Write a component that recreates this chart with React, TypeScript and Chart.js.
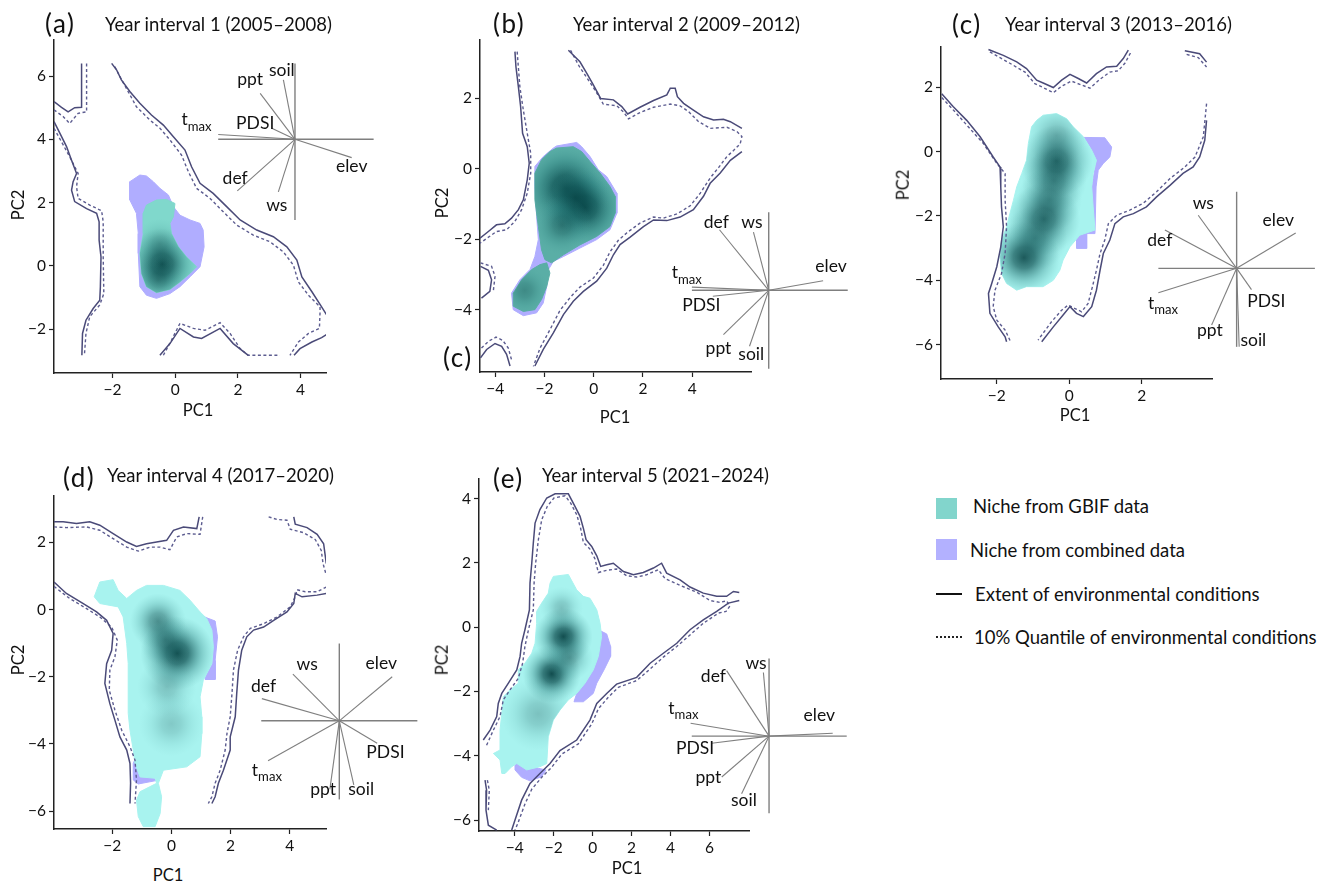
import React, { useEffect, useRef } from "react";
import { Chart, registerables } from "chart.js";
Chart.register(...registerables);

type P = [number, number];
type Spot = { x: number; y: number; s: number; w: number };

// ---------- shared ----------
const VARS = ["tmax", "PDSI", "ppt", "soil", "elev", "def", "ws"];

// ---------- panel (a) ----------
const A_XLIM = [-3.87, 4.81];
const A_YLIM = [-3.39, 7.14];
const A_XTICKS = [-2, 0, 2, 4];
const A_YTICKS = [-2, 0, 2, 4, 6];
const A_EXT_1: P[] = [[-3.87,5.19],[-3.63,5.01],[-3.42,4.87],[-3.21,5.0],[-2.99,5.01],[-2.99,6.4]];
const A_Q10_1: P[] = [[-3.87,4.93],[-3.58,4.72],[-3.37,4.5],[-3.1,4.82],[-2.83,4.87],[-2.83,6.4]];
const A_EXT_2: P[] = [[-3.87,4.56],[-3.68,4.19],[-3.47,3.77],[-3.31,3.34],[-3.15,2.92],[-3.26,2.66],[-3.31,2.39],[-3.21,2.03],[-2.83,1.81],[-2.51,1.66],[-2.43,1.39],[-2.43,0.81],[-2.37,0.28],[-2.39,-0.66],[-2.41,-1.09],[-2.62,-1.35],[-2.85,-1.72],[-2.96,-2.14],[-2.98,-2.83]];
const A_Q10_2: P[] = [[-3.87,4.35],[-3.63,3.92],[-3.37,3.45],[-3.1,2.92],[-3.15,2.5],[-3.1,2.13],[-2.73,1.92],[-2.35,1.74],[-2.3,1.39],[-2.3,0.28],[-2.28,-0.88],[-2.41,-1.24],[-2.73,-1.61],[-2.85,-2.14],[-2.9,-2.83]];
const A_EXT_3: P[] = [[-2.03,6.4],[-1.87,6.19],[-1.72,5.88],[-1.45,5.51],[-1.13,5.14],[-0.76,4.77],[-0.38,4.45],[-0.06,4.08],[0.31,3.66],[0.52,3.13],[0.79,2.61],[1.21,2.29],[1.64,1.87],[2.07,1.45],[2.6,1.13],[3.13,0.92],[3.56,0.6],[3.88,0.18],[4.04,-0.35],[4.36,-0.82],[4.67,-1.3],[4.94,-1.72],[4.89,-2.14],[4.67,-2.27],[4.36,-2.41],[3.98,-2.62],[3.79,-2.83]];
const A_Q10_3: P[] = [[-1.93,6.3],[-1.77,5.99],[-1.56,5.61],[-1.24,5.03],[-0.81,4.61],[-0.49,4.35],[-0.17,3.98],[0.2,3.5],[0.42,2.97],[0.68,2.45],[1.11,2.13],[1.53,1.71],[1.96,1.29],[2.49,0.97],[3.02,0.76],[3.45,0.44],[3.77,0.02],[3.93,-0.51],[4.25,-0.93],[4.62,-1.3],[4.62,-1.46],[4.6,-1.98],[4.25,-2.14],[3.93,-2.41],[3.66,-2.83]];
const A_EXT_4: P[] = [[-0.49,-2.83],[-0.17,-2.46],[0.15,-1.98],[0.58,-2.25],[0.84,-2.3],[1.43,-1.98],[1.85,-2.46],[2.33,-2.83]];
const A_Q10_4: P[] = [[-0.38,-2.83],[-0.12,-2.35],[0.15,-1.82],[0.58,-1.98],[0.95,-2.04],[1.43,-1.8],[1.75,-2.14],[2.07,-2.62],[2.33,-2.83],[3.34,-2.83]];
const A_COMB: P[] = [[-1.13,2.87],[-1.45,2.66],[-1.45,2.08],[-1.24,1.66],[-1.18,1.02],[-1.18,0.39],[-1.13,-0.66],[-0.92,-0.93],[-0.6,-1.03],[-0.17,-0.88],[0.15,-0.66],[0.47,-0.35],[0.79,-0.03],[0.92,0.6],[0.89,1.13],[0.79,1.34],[0.47,1.45],[0.15,1.6],[-0.06,1.87],[-0.22,2.24],[-0.49,2.45],[-0.7,2.66],[-0.92,2.84]];
const A_GBIF: P[] = [[-0.6,2.08],[-0.92,1.92],[-1.02,1.66],[-1.02,1.02],[-1.13,0.39],[-1.08,-0.24],[-0.92,-0.66],[-0.6,-0.85],[-0.17,-0.75],[0.15,-0.51],[0.47,-0.24],[0.68,-0.03],[0.36,0.28],[0.1,0.6],[-0.12,1.02],[-0.17,1.34],[-0.06,1.55],[-0.01,1.97],[-0.28,2.1]];
const A_SPOTS: Spot[] = [{x:-0.42,y:0.05,s:1.15,w:1},{x:-0.55,y:-0.45,s:0.8,w:0.4},{x:-0.5,y:0.7,s:0.8,w:0.3}];
const A_CENTER: P = [3.82, 4.0];
const A_BI_H = [1.37, 6.33];
const A_BI_V = [1.45, 6.4];
const A_ENDS: P[] = [[1.37,4.15],[3.08,4.35],[2.71,5.45],[3.45,5.88],[5.63,3.42],[1.98,2.37],[3.29,2.34]];
const A_LABELS: P[] = [[0.68,4.56],[2.55,4.5],[2.39,5.88],[3.4,6.19],[5.63,3.13],[1.91,2.76],[3.24,1.92]];

// ---------- panel (b) ----------
const B_XLIM = [-4.62, 6.39];
const B_YLIM = [-5.77, 3.66];
const B_XTICKS = [-4, -2, 0, 2, 4];
const B_YTICKS = [-4, -2, 0, 2];
const B_EXT_1: P[] = [[-3.2,3.33],[-3.16,2.9],[-3.06,2.33],[-2.97,1.77],[-2.89,1.01],[-2.7,0.63],[-2.62,0.16],[-2.7,-0.31],[-2.86,-0.88],[-3.06,-1.16],[-3.34,-1.4],[-3.61,-1.56],[-3.95,-1.59],[-4.28,-1.78],[-4.62,-1.97]];
const B_Q10_1: P[] = [[-3.11,3.33],[-3.0,2.33],[-2.86,1.67],[-2.7,1.01],[-2.56,0.44],[-2.56,-0.12],[-2.7,-0.69],[-2.93,-1.16],[-3.2,-1.49],[-3.54,-1.73],[-3.95,-1.78],[-4.62,-2.11]];
const B_EXT_2: P[] = [[-1.03,3.37],[-0.56,3.04],[-0.28,2.71],[-0.01,2.38],[0.28,2.0],[0.8,1.96],[1.14,1.77],[1.38,1.56],[1.88,1.75],[2.43,1.94],[2.97,2.1],[3.11,2.29],[3.31,2.29],[3.4,2.05],[3.65,1.86],[4.05,1.67],[4.46,1.48],[4.87,1.39],[5.27,1.41],[5.55,1.34],[6.02,1.15]];
const B_EXT_3: P[] = [[6.02,0.49],[5.55,0.24],[5.14,-0.12],[4.73,-0.41],[4.46,-0.78],[4.05,-1.16],[3.51,-1.37],[2.97,-1.47],[2.43,-1.45],[2.02,-1.64],[1.48,-1.94],[1.07,-2.15],[0.8,-2.44],[0.53,-2.82],[0.12,-3.19],[-0.42,-3.48],[-0.83,-3.76],[-1.23,-4.14],[-1.64,-4.66],[-2.05,-5.13],[-2.39,-5.6]];
const B_Q10_2: P[] = [[-0.94,3.37],[-0.58,2.9],[-0.26,2.57],[0.05,2.24],[0.39,1.84],[0.94,1.79],[1.23,1.6],[1.41,1.42],[1.88,1.6],[2.43,1.75],[3.11,1.84],[3.51,1.79],[3.85,1.63],[4.26,1.34],[4.73,1.15],[5.41,1.18],[5.82,1.06],[6.02,0.92],[5.95,0.71],[5.68,0.52],[5.41,0.35],[5.11,0.07],[4.73,-0.26],[4.33,-0.69],[3.92,-1.05],[3.38,-1.28],[2.83,-1.4],[2.43,-1.37],[1.88,-1.54],[1.34,-1.82],[1.0,-2.03],[0.66,-2.36],[0.39,-2.74],[-0.01,-3.1],[-0.56,-3.36],[-0.94,-3.64],[-1.37,-4.02],[-1.78,-4.57],[-2.18,-5.09],[-2.45,-5.61]];
const B_EXT_4: P[] = [[-4.6,-5.37],[-4.35,-5.13],[-4.01,-4.96],[-3.74,-5.04],[-3.54,-5.27],[-3.4,-5.6]];
const B_Q10_4: P[] = [[-4.56,-5.09],[-4.28,-4.9],[-3.97,-4.78],[-3.7,-4.87],[-3.47,-5.09],[-3.34,-5.42]];
const B_EXT_5: P[] = [[-4.6,-2.77],[-4.28,-2.88],[-4.15,-3.15],[-4.22,-3.48],[-4.56,-3.67]];
const B_Q10_5: P[] = [[-4.6,-2.67],[-4.15,-2.77],[-4.01,-3.05],[-4.08,-3.48]];
const B_COMB: P[] = [[-1.51,0.65],[-0.69,0.75],[-0.49,0.63],[-0.15,0.35],[0.19,-0.03],[0.53,-0.22],[0.94,-0.69],[0.94,-1.26],[0.66,-1.73],[0.12,-2.01],[-0.56,-2.25],[-1.23,-2.49],[-1.64,-2.63],[-1.84,-2.86],[-1.91,-3.34],[-2.05,-3.81],[-2.32,-4.09],[-2.86,-4.17],[-3.27,-4.0],[-3.34,-3.53],[-3.0,-3.15],[-2.59,-2.86],[-2.39,-2.49],[-2.25,-2.01],[-2.32,-1.35],[-2.39,-0.5],[-2.39,0.07],[-2.05,0.35],[-1.64,0.59]];
const B_GBIF_1: P[] = [[-1.51,0.59],[-0.83,0.63],[-0.49,0.49],[-0.15,0.21],[0.26,-0.12],[0.66,-0.5],[0.87,-0.78],[0.87,-1.26],[0.66,-1.64],[0.12,-1.92],[-0.56,-2.16],[-1.23,-2.44],[-1.71,-2.67],[-1.98,-2.58],[-2.12,-2.3],[-2.25,-1.64],[-2.39,-0.88],[-2.39,-0.12],[-2.12,0.26],[-1.78,0.49]];
const B_GBIF_2: P[] = [[-1.91,-2.67],[-1.78,-2.96],[-1.91,-3.34],[-2.12,-3.71],[-2.39,-4.0],[-2.86,-4.05],[-3.27,-3.9],[-3.27,-3.53],[-2.93,-3.15],[-2.52,-2.86],[-2.18,-2.72]];
const B_SPOTS: Spot[] = [{x:-1.15,y:-0.55,s:1.8,w:1},{x:-0.35,y:-1.1,s:1.6,w:1},{x:-0.75,y:-0.8,s:1.4,w:0.6},{x:-1.3,y:-1.6,s:1.2,w:0.5},{x:-2.8,y:-3.45,s:1.0,w:0.35}];
const B_CENTER: P = [7.11, -3.45];
const B_BI_H = [3.99, 10.32];
const B_BI_V = [-5.68, -1.23];
const B_ENDS: P[] = [[3.99,-3.36],[4.84,-3.62],[5.27,-4.71],[6.33,-5.04],[9.32,-3.18],[5.11,-1.73],[6.49,-1.8]];
const B_LABELS: P[] = [[3.78,-3.01],[4.37,-3.88],[5.07,-5.09],[6.4,-5.27],[9.64,-2.77],[4.98,-1.52],[6.43,-1.52]];

// ---------- panel (c) ----------
const C_XLIM = [-3.54, 3.94];
const C_YLIM = [-7.07, 3.25];
const C_XTICKS = [-2, 0, 2];
const C_YTICKS = [-6, -4, -2, 0, 2];
const C_EXT_1: P[] = [[-2.23,3.17],[-1.82,2.99],[-1.45,2.79],[-1.18,2.58],[-0.9,2.22],[-0.72,2.13],[-0.44,1.99],[-0.21,2.22],[0.02,2.4],[0.25,2.27],[0.48,2.13],[0.75,2.42],[1.03,2.63],[1.31,2.65],[1.49,2.89],[1.63,3.15]];
const C_Q10_1: P[] = [[-2.19,3.1],[-1.91,2.92],[-1.54,2.68],[-1.22,2.47],[-0.95,2.11],[-0.72,1.99],[-0.44,1.83],[-0.21,2.03],[0.06,2.19],[0.29,2.09],[0.57,1.97],[0.85,2.25],[1.12,2.47],[1.35,2.51],[1.54,2.75],[1.72,3.13]];
const C_EXT_2: P[] = [[3.19,3.13],[3.6,3.04],[3.79,2.78]];
const C_Q10_2: P[] = [[3.24,3.02],[3.56,2.92],[3.79,2.63]];
const C_EXT_3: P[] = [[-3.52,1.8],[-3.2,1.39],[-2.83,0.97],[-2.46,0.46],[-2.1,-0.17],[-1.91,-0.48],[-1.89,-1.1],[-1.87,-1.72],[-1.82,-2.34],[-1.89,-2.96],[-2.0,-3.58],[-2.14,-4.1],[-2.23,-4.41],[-2.19,-5.03],[-1.96,-5.45],[-1.77,-5.76],[-1.73,-5.91]];
const C_Q10_3: P[] = [[-3.52,1.68],[-3.15,1.23],[-2.74,0.71],[-2.37,0.25],[-2.0,-0.37],[-1.77,-0.68],[-1.77,-1.51],[-1.73,-2.34],[-1.77,-3.17],[-1.87,-3.79],[-2.05,-4.31],[-2.1,-4.82],[-2.0,-5.24],[-1.77,-5.55],[-1.62,-5.91]];
const C_EXT_4: P[] = [[3.79,0.97],[3.74,0.35],[3.6,-0.17],[3.42,-0.48],[3.14,-0.68],[2.78,-1.05],[2.41,-1.41],[2.13,-1.72],[1.77,-1.93],[1.49,-2.03],[1.26,-2.24],[1.12,-2.75],[0.94,-3.17],[0.85,-3.69],[0.75,-4.31],[0.62,-4.82],[0.39,-5.13],[0.2,-5.03],[0.02,-4.82],[-0.17,-5.08],[-0.44,-5.45],[-0.76,-5.91]];
const C_Q10_4: P[] = [[3.79,1.49],[3.7,0.46],[3.47,-0.17],[3.19,-0.48],[2.78,-0.84],[2.41,-1.25],[2.04,-1.61],[1.67,-1.82],[1.31,-1.98],[1.08,-2.24],[0.98,-2.75],[0.85,-3.17],[0.75,-3.69],[0.64,-4.2],[0.52,-4.72],[0.34,-4.98],[0.16,-4.88],[-0.03,-4.77],[-0.21,-4.93],[-0.49,-5.29],[-0.86,-5.86]];
const C_COMB: P[] = [[0.39,0.44],[0.98,0.43],[1.17,0.14],[1.12,-0.17],[0.94,-0.37],[0.8,-0.58],[0.74,-1.1],[0.71,-2.55],[0.48,-2.55],[0.48,-3.01],[0.2,-3.01],[0.2,-2.55],[0.62,-1.1],[0.75,-0.27],[0.62,0.04]];
const C_GBIF: P[] = [[-0.9,0.97],[-0.72,1.13],[-0.35,1.18],[-0.07,1.02],[0.11,0.77],[0.39,0.46],[0.62,0.04],[0.75,-0.27],[0.66,-0.68],[0.62,-1.1],[0.66,-1.72],[0.71,-2.44],[0.29,-2.6],[0.02,-2.96],[-0.17,-3.37],[-0.26,-3.69],[-0.44,-4.0],[-0.72,-4.2],[-1.18,-4.2],[-1.45,-4.31],[-1.73,-4.1],[-1.87,-3.79],[-1.91,-3.27],[-1.87,-2.75],[-1.73,-2.34],[-1.64,-1.93],[-1.54,-1.51],[-1.45,-1.1],[-1.31,-0.68],[-1.18,-0.27],[-1.13,0.25],[-1.04,0.77]];
const C_SPOTS: Spot[] = [{x:-0.35,y:-0.3,s:1.0,w:0.9},{x:-0.42,y:-0.9,s:0.9,w:0.55},{x:-0.55,y:-1.5,s:0.9,w:0.55},{x:-0.7,y:-2.1,s:1.0,w:0.8},{x:-0.95,y:-2.7,s:0.9,w:0.55},{x:-1.25,y:-3.3,s:1.0,w:0.9},{x:-0.35,y:0.5,s:0.85,w:0.35}];
const C_CENTER: P = [4.62, -3.63];
const C_BI_H = [2.46, 6.78];
const C_BI_V = [-6.07, -1.25];
const C_ENDS: P[] = [[2.46,-4.39],[5.03,-4.29],[3.93,-5.39],[4.69,-6.07],[6.25,-2.53],[2.64,-2.44],[3.56,-1.98]];
const C_LABELS: P[] = [[2.59,-4.77],[5.44,-4.67],[3.88,-5.55],[5.08,-5.86],[5.77,-2.15],[2.5,-2.77],[3.7,-1.62]];

// ---------- panel (d) ----------
const D_XLIM = [-3.97, 5.23];
const D_YLIM = [-6.53, 3.38];
const D_XTICKS = [-2, 0, 2, 4];
const D_YTICKS = [-6, -4, -2, 0, 2];
const D_EXT_1: P[] = [[-3.97,2.61],[-3.66,2.61],[-3.21,2.56],[-2.76,2.61],[-2.42,2.51],[-1.97,2.26],[-1.51,2.01],[-1.18,1.88],[-0.84,1.96],[-0.5,2.01],[-0.16,2.06],[0.07,2.36],[0.41,2.46],[0.86,2.41],[0.94,2.76]];
const D_Q10_1: P[] = [[-3.97,2.46],[-3.55,2.44],[-2.87,2.46],[-2.42,2.36],[-1.97,2.11],[-1.51,1.86],[-1.12,1.74],[-0.72,1.86],[-0.38,1.86],[-0.05,1.78],[0.18,2.16],[0.52,2.26],[0.97,2.24],[1.06,2.76]];
const D_EXT_2: P[] = [[4.14,2.76],[4.19,2.54],[4.59,2.44],[4.93,2.24],[5.15,1.96],[5.24,1.37]];
const D_Q10_2: P[] = [[3.29,2.76],[3.57,2.68],[3.91,2.66],[4.02,2.39],[4.47,2.29],[4.87,2.08],[5.07,1.76],[5.13,1.37],[5.24,1.02]];
const D_EXT_3: P[] = [[-3.97,0.82],[-3.55,0.48],[-2.98,0.18],[-2.53,-0.07],[-2.19,-0.32],[-1.97,-0.71],[-2.02,-1.21],[-2.19,-1.61],[-2.25,-2.2],[-2.08,-2.8],[-1.91,-3.29],[-1.74,-3.79],[-1.51,-4.18],[-1.4,-4.58],[-1.38,-5.17],[-1.4,-5.77]];
const D_Q10_3: P[] = [[-3.97,0.69],[-3.44,0.33],[-2.87,0.03],[-2.42,-0.22],[-2.02,-0.52],[-1.83,-0.91],[-1.91,-1.41],[-2.08,-1.8],[-2.1,-2.4],[-1.91,-2.99],[-1.68,-3.59],[-1.4,-4.08],[-1.23,-4.48],[-1.18,-5.07],[-1.23,-5.77]];
const D_EXT_4: P[] = [[5.24,0.48],[4.93,0.43],[4.42,0.38],[4.19,0.48],[4.14,0.18],[3.91,-0.07],[3.46,-0.32],[3.12,-0.52],[2.78,-0.61],[2.55,-0.81],[2.38,-1.21],[2.27,-1.8],[2.21,-2.5],[2.16,-3.19],[1.99,-3.79],[1.99,-4.18],[1.76,-4.78],[1.59,-5.17],[1.48,-5.57],[1.37,-5.77]];
const D_Q10_4: P[] = [[5.24,0.67],[4.93,0.53],[4.53,0.53],[4.25,0.59],[4.19,0.38],[4.02,0.08],[3.57,-0.22],[3.12,-0.42],[2.67,-0.56],[2.44,-0.81],[2.24,-1.21],[2.1,-1.8],[2.05,-2.5],[1.99,-3.19],[1.88,-3.69],[1.82,-4.18],[1.65,-4.78],[1.48,-5.17],[1.37,-5.57],[1.25,-5.77]];
const D_COMB_1: P[] = [[0.97,-0.17],[1.48,-0.34],[1.56,-0.81],[1.48,-1.51],[1.48,-2.08],[1.14,-2.08],[1.14,-0.22]];
const D_COMB_2: P[] = [[-0.97,-4.16],[-0.84,-4.58],[-0.52,-5.09],[-1.12,-5.19],[-1.29,-5.07],[-1.29,-4.58],[-1.15,-4.28]];
const D_GBIF: P[] = [[-2.61,0.38],[-2.42,0.82],[-1.97,0.89],[-1.8,0.57],[-1.51,0.33],[-1.18,0.57],[-0.84,0.72],[-0.27,0.72],[0.29,0.57],[0.63,0.28],[0.97,-0.07],[1.2,-0.27],[1.37,-0.61],[1.42,-1.11],[1.37,-1.61],[1.08,-2.1],[0.97,-2.6],[1.03,-3.19],[1.03,-3.69],[0.97,-4.38],[0.52,-4.68],[-0.27,-4.78],[-0.44,-5.17],[-0.33,-5.57],[-0.38,-6.07],[-0.55,-6.46],[-0.95,-6.46],[-1.12,-6.16],[-1.18,-5.67],[-1.06,-5.42],[-0.5,-5.17],[-0.55,-5.02],[-1.06,-4.98],[-1.23,-4.58],[-1.29,-4.18],[-1.4,-3.59],[-1.46,-3.09],[-1.46,-2.4],[-1.46,-1.61],[-1.51,-1.01],[-1.63,-0.22],[-1.8,0.08],[-2.42,0.18]];
const D_SPOTS: Spot[] = [{x:0.2,y:-1.3,s:1.25,w:1},{x:-0.45,y:-0.35,s:0.95,w:0.6},{x:-0.2,y:-0.9,s:0.9,w:0.45},{x:0.0,y:-3.4,s:1.1,w:0.25},{x:-0.15,y:-2.3,s:1.0,w:0.3}];
const D_CENTER: P = [5.68, -3.31];
const D_BI_H = [3.04, 8.32];
const D_BI_V = [-5.65, -1.01];
const D_ENDS: P[] = [[3.27,-4.5],[6.96,-3.98],[5.36,-5.35],[6.17,-5.22],[7.47,-2.0],[3.06,-2.65],[4.11,-1.92]];
const D_LABELS: P[] = [[3.23,-4.83],[7.24,-4.26],[5.13,-5.35],[6.42,-5.35],[7.1,-1.59],[3.12,-2.28],[4.59,-1.64]];

// ---------- panel (e) ----------
const E_XLIM = [-5.84, 8.03];
const E_YLIM = [-6.34, 4.61];
const E_XTICKS = [-4, -2, 0, 2, 4, 6];
const E_YTICKS = [-6, -4, -2, 0, 2, 4];
const E_EXT_1: P[] = [[-5.62,-3.51],[-5.27,-3.2],[-4.93,-2.78],[-4.85,-2.37],[-4.67,-2.06],[-4.33,-1.74],[-3.9,-1.33],[-3.73,-0.91],[-3.65,-0.5],[-3.48,-0.08],[-3.25,0.54],[-3.22,1.37],[-3.13,1.99],[-3.05,2.62],[-2.96,3.24],[-2.71,3.66],[-2.36,4.02],[-1.93,4.15],[-1.25,4.15],[-0.91,3.76],[-0.65,3.45],[-0.48,3.08],[-0.34,2.72],[-0.05,2.51],[0.21,2.22],[0.41,1.89],[0.72,1.94],[1.06,1.99],[1.58,1.73],[2.09,1.63],[2.6,1.7],[3.12,1.84],[3.54,1.99],[3.8,1.68],[4.49,1.47],[5.0,1.25],[5.68,1.06],[6.37,0.96],[6.88,0.96],[7.23,1.11],[7.53,1.08]];
const E_EXT_2: P[] = [[7.53,0.83],[6.97,0.75],[6.37,0.49],[5.68,0.23],[5.0,-0.08],[4.32,-0.5],[3.63,-0.81],[2.95,-1.12],[2.26,-1.56],[1.23,-1.77],[0.72,-2.06],[0.21,-2.37],[-0.14,-2.89],[-0.82,-3.51],[-1.68,-3.84],[-2.19,-4.24],[-2.71,-4.55],[-3.22,-4.86],[-3.65,-5.38],[-3.99,-6.0],[-4.16,-6.31]];
const E_EXT_3: P[] = [[-5.53,-4.76],[-5.45,-5.07],[-5.48,-5.69],[-5.36,-6.16],[-4.93,-6.31]];
const E_Q10_1: P[] = [[-5.45,-3.67],[-5.1,-3.2],[-4.76,-2.78],[-4.59,-2.26],[-4.25,-1.95],[-3.82,-1.59],[-3.6,-1.12],[-3.48,-0.6],[-3.3,-0.08],[-3.05,0.54],[-3.01,1.37],[-2.93,1.99],[-2.79,2.72],[-2.62,3.34],[-2.33,3.76],[-1.99,4.02],[-1.42,4.09],[-1.13,3.86],[-0.82,3.5],[-0.62,3.08],[-0.48,2.64],[-0.14,2.43],[0.12,2.12],[0.29,1.7],[0.72,1.77],[1.23,1.81],[1.75,1.6],[2.26,1.56],[2.77,1.63],[3.37,1.79],[3.72,1.51],[4.49,1.3],[5.34,1.09],[6.03,0.83],[6.54,0.77],[6.88,0.82],[7.05,0.66],[6.85,0.49],[6.46,0.44],[5.68,0.12],[5.0,-0.24],[4.32,-0.6],[3.63,-0.93],[2.95,-1.3],[2.26,-1.66],[1.32,-1.87],[0.8,-2.18],[0.29,-2.54],[-0.05,-3.01],[-0.74,-3.63],[-1.59,-3.95],[-2.11,-4.36],[-2.62,-4.67],[-3.13,-5.04],[-3.48,-5.5],[-3.85,-6.11],[-3.99,-6.31]];
const E_Q10_3: P[] = [[-5.41,-4.76],[-5.31,-5.07],[-5.36,-5.69]];
const E_COMB_1: P[] = [[-0.48,0.96],[-0.22,0.8],[0.29,-0.08],[0.72,-0.21],[0.92,-0.6],[0.92,-0.91],[0.58,-1.33],[0.21,-1.74],[0.03,-2.06],[-0.48,-2.32],[-0.96,-2.32],[-0.82,-2.06]];
const E_COMB_2: P[] = [[-3.99,-4.13],[-3.39,-4.24],[-2.79,-4.39],[-2.4,-4.44],[-2.62,-4.65],[-3.22,-4.78],[-3.65,-4.67],[-3.99,-4.44]];
const E_GBIF: P[] = [[-2.02,1.58],[-1.25,1.64],[-0.82,1.16],[-0.48,0.96],[-0.14,0.9],[0.21,0.54],[0.38,0.12],[0.46,-0.29],[0.29,-0.91],[0.03,-1.33],[-0.39,-1.74],[-0.82,-2.06],[-1.25,-2.26],[-1.68,-2.58],[-2.02,-2.89],[-2.28,-3.41],[-2.36,-4.24],[-2.71,-4.34],[-3.39,-4.44],[-3.9,-4.24],[-4.16,-4.34],[-4.5,-4.55],[-4.67,-4.55],[-4.76,-4.13],[-5.1,-3.93],[-4.76,-3.82],[-4.76,-3.2],[-4.67,-2.68],[-4.59,-2.16],[-4.25,-1.95],[-3.82,-1.74],[-3.82,-1.33],[-3.48,-1.12],[-3.13,-0.81],[-2.96,-0.5],[-2.88,0.12],[-2.88,0.49],[-2.62,0.75],[-2.28,1.06],[-2.19,1.37]];
const E_SPOTS: Spot[] = [{x:-1.5,y:-0.3,s:1.5,w:1},{x:-2.1,y:-1.45,s:1.5,w:1},{x:-1.2,y:-0.95,s:1.2,w:0.45},{x:-2.8,y:-2.7,s:1.9,w:0.3},{x:-1.6,y:0.6,s:1.1,w:0.3}];
const E_CENTER: P = [9.06, -3.39];
const E_BI_H = [5.09, 13.05];
const E_BI_V = [-5.79, -0.97];
const E_ENDS: P[] = [[5.03,-2.99],[6.11,-3.61],[6.63,-4.66],[7.65,-5.18],[12.33,-3.3],[6.88,-1.35],[8.77,-1.41]];
const E_LABELS: P[] = [[4.66,-2.58],[5.26,-3.77],[5.94,-4.67],[7.77,-5.4],[11.64,-2.73],[6.2,-1.52],[8.39,-1.12]];

// ---------- layout / style ----------
const FONT = "Lato, 'Open Sans', sans-serif";
const PAD_L = 50, PAD_R = 110, PAD_T = 20, PAD_B = 32;
const EXT_COLOR = "#4a4a78";
const Q10_COLOR = "#5c5c90";
const COMB_COLOR = "#b0adff";
const BI_COLOR = "#7f7f7f";
const LABEL_SIZE = 17.5;

const PANELS = [
  { box: [54, 40, 326, 373], xlim: A_XLIM, ylim: A_YLIM, xticks: A_XTICKS, yticks: A_YTICKS,
    extent: [A_EXT_1, A_EXT_2, A_EXT_3, A_EXT_4], q10: [A_Q10_1, A_Q10_2, A_Q10_3, A_Q10_4],
    combined: [A_COMB], gbif: [A_GBIF], gbifColor: "#80d8cc", spots: A_SPOTS,
    center: A_CENTER, biH: A_BI_H, biV: A_BI_V, ends: A_ENDS, labels: A_LABELS },
  { box: [480, 40, 751, 372], xlim: B_XLIM, ylim: B_YLIM, xticks: B_XTICKS, yticks: B_YTICKS,
    extent: [B_EXT_1, B_EXT_2, B_EXT_3, B_EXT_4, B_EXT_5], q10: [B_Q10_1, B_Q10_2, B_Q10_4, B_Q10_5],
    combined: [B_COMB], gbif: [B_GBIF_1, B_GBIF_2], gbifColor: "#5aaea6", spots: B_SPOTS,
    center: B_CENTER, biH: B_BI_H, biV: B_BI_V, ends: B_ENDS, labels: B_LABELS },
  { box: [941, 47, 1212, 379], xlim: C_XLIM, ylim: C_YLIM, xticks: C_XTICKS, yticks: C_YTICKS,
    extent: [C_EXT_1, C_EXT_2, C_EXT_3, C_EXT_4], q10: [C_Q10_1, C_Q10_2, C_Q10_3, C_Q10_4],
    combined: [C_COMB], gbif: [C_GBIF], gbifColor: "#a8f3ef", spots: C_SPOTS,
    center: C_CENTER, biH: C_BI_H, biV: C_BI_V, ends: C_ENDS, labels: C_LABELS },
  { box: [54, 496, 326, 829], xlim: D_XLIM, ylim: D_YLIM, xticks: D_XTICKS, yticks: D_YTICKS,
    extent: [D_EXT_1, D_EXT_2, D_EXT_3, D_EXT_4], q10: [D_Q10_1, D_Q10_2, D_Q10_3, D_Q10_4],
    combined: [D_COMB_1, D_COMB_2], gbif: [D_GBIF], gbifColor: "#a8f3ef", spots: D_SPOTS,
    center: D_CENTER, biH: D_BI_H, biV: D_BI_V, ends: D_ENDS, labels: D_LABELS },
  { box: [479, 479, 749, 831], xlim: E_XLIM, ylim: E_YLIM, xticks: E_XTICKS, yticks: E_YTICKS,
    extent: [E_EXT_1, E_EXT_2, E_EXT_3], q10: [E_Q10_1, E_Q10_3],
    combined: [E_COMB_1, E_COMB_2], gbif: [E_GBIF], gbifColor: "#a8f3ef", spots: E_SPOTS,
    center: E_CENTER, biH: E_BI_H, biV: E_BI_V, ends: E_ENDS, labels: E_LABELS },
];

const fmt = (v: number) => (v < 0 ? "\u2212" + Math.abs(v) : String(v));
const pts = (arr: P[]) => arr.map(([x, y]) => ({ x, y }));
const closed = (arr: P[]) => pts([...arr, arr[0]]);

function spotRadius(ctx: any) {
  const raw = ctx && ctx.raw;
  const sx = ctx && ctx.chart && ctx.chart.scales && ctx.chart.scales.x;
  if (!raw || !sx || raw.s === undefined) return 0;
  const r = Math.abs(sx.getPixelForValue(raw.x + raw.s) - sx.getPixelForValue(raw.x));
  return Number.isFinite(r) ? r : 0;
}
function spotFill(ctx: any) {
  const raw = ctx && ctx.raw;
  const c = ctx && ctx.chart;
  if (!raw || !c || !c.scales || !c.scales.x || !c.scales.y) return "rgba(0,0,0,0)";
  const px = c.scales.x.getPixelForValue(raw.x);
  const py = c.scales.y.getPixelForValue(raw.y);
  const r = spotRadius(ctx);
  if (!Number.isFinite(px) || !Number.isFinite(py) || !(r > 0)) return "rgba(0,0,0,0)";
  const g = c.ctx.createRadialGradient(px, py, 0, px, py, r);
  const w = raw.w;
  g.addColorStop(0, `rgba(4,62,64,${0.92 * w})`);
  g.addColorStop(0.3, `rgba(10,76,78,${0.72 * w})`);
  g.addColorStop(0.65, `rgba(35,118,118,${0.32 * w})`);
  g.addColorStop(1, "rgba(80,165,162,0)");
  return g;
}

function buildConfig(p: any) {
  const ds: any[] = [];
  const lineBase = { type: "line", pointRadius: 0, pointHoverRadius: 0, tension: 0, fill: false };
  const [cx, cy] = p.center;
  ds.push({ ...lineBase, data: [{ x: p.biH[0], y: cy }, { x: p.biH[1], y: cy }], borderColor: BI_COLOR, borderWidth: 1.4, clip: false, order: 0 });
  ds.push({ ...lineBase, data: [{ x: cx, y: p.biV[0] }, { x: cx, y: p.biV[1] }], borderColor: BI_COLOR, borderWidth: 1.4, clip: false, order: 0 });
  p.ends.forEach((e: P) => {
    ds.push({ ...lineBase, data: [{ x: cx, y: cy }, { x: e[0], y: e[1] }], borderColor: BI_COLOR, borderWidth: 1.1, clip: false, order: 0 });
  });
  p.extent.forEach((l: P[]) => ds.push({ ...lineBase, data: pts(l), borderColor: EXT_COLOR, borderWidth: 1.5, order: 1 }));
  p.q10.forEach((l: P[]) => ds.push({ ...lineBase, data: pts(l), borderColor: Q10_COLOR, borderWidth: 1.4, borderDash: [3, 2.5], order: 1 }));
  const spotIndex = ds.length;
  ds.push({
    type: "scatter", data: p.spots, showLine: false,
    pointRadius: spotRadius, pointHoverRadius: spotRadius,
    pointBackgroundColor: spotFill, pointBorderWidth: 0, pointBorderColor: "rgba(0,0,0,0)", order: 2,
  });
  p.gbif.forEach((l: P[]) => ds.push({ ...lineBase, data: closed(l), fill: "shape", backgroundColor: p.gbifColor, borderColor: p.gbifColor, borderWidth: 1, order: 3 }));
  p.combined.forEach((l: P[]) => ds.push({ ...lineBase, data: closed(l), fill: "shape", backgroundColor: COMB_COLOR, borderColor: COMB_COLOR, borderWidth: 1, order: 4 }));

  // keep the density shading inside the GBIF niche outline
  const clipPlugin = {
    id: "densityClip",
    beforeDatasetDraw(chart: any, args: any) {
      if (args.index !== spotIndex) return;
      const ctx = chart.ctx;
      const sx = chart.scales.x, sy = chart.scales.y;
      ctx.save();
      ctx.beginPath();
      p.gbif.forEach((poly: P[]) => {
        poly.forEach(([x, y], k) => {
          const px = sx.getPixelForValue(x), py = sy.getPixelForValue(y);
          if (k === 0) ctx.moveTo(px, py); else ctx.lineTo(px, py);
        });
        ctx.closePath();
      });
      ctx.clip();
    },
    afterDatasetDraw(chart: any, args: any) {
      if (args.index !== spotIndex) return;
      chart.ctx.restore();
    },
  };

  const labelPlugin = {
    id: "biplotLabels",
    afterDatasetsDraw(chart: any) {
      const ctx = chart.ctx;
      const sx = chart.scales.x, sy = chart.scales.y;
      ctx.save();
      ctx.fillStyle = "#111";
      ctx.textBaseline = "middle";
      p.labels.forEach((lb: P, i: number) => {
        const px = sx.getPixelForValue(lb[0]);
        const py = sy.getPixelForValue(lb[1]);
        const name = VARS[i];
        if (name === "tmax") {
          ctx.font = `${LABEL_SIZE}px ${FONT}`;
          const w1 = ctx.measureText("t").width;
          ctx.font = `${LABEL_SIZE * 0.75}px ${FONT}`;
          const w2 = ctx.measureText("max").width;
          const x0 = px - (w1 + w2) / 2;
          ctx.textAlign = "left";
          ctx.font = `${LABEL_SIZE}px ${FONT}`;
          ctx.fillText("t", x0, py - 2);
          ctx.font = `${LABEL_SIZE * 0.75}px ${FONT}`;
          ctx.fillText("max", x0 + w1, py + 5);
        } else {
          ctx.font = `${LABEL_SIZE}px ${FONT}`;
          ctx.textAlign = "center";
          ctx.fillText(name, px, py);
        }
      });
      ctx.restore();
    },
  };

  const axisCommon = {
    type: "linear",
    ticks: { callback: (v: any) => fmt(Number(v)), font: { family: FONT, size: 15.5 }, color: "#111", padding: 3, autoSkip: false, maxRotation: 0 },
    grid: { drawOnChartArea: false, drawTicks: true, tickLength: 5, tickColor: "#222", tickWidth: 1.2 },
    border: { display: true, color: "#222", width: 1.5 },
  };

  return {
    type: "line",
    data: { datasets: ds },
    plugins: [clipPlugin, labelPlugin],
    options: {
      animation: false,
      responsive: false,
      maintainAspectRatio: false,
      events: [],
      layout: { padding: { left: 0, top: PAD_T, right: PAD_R, bottom: 0 } },
      plugins: { legend: { display: false }, tooltip: { enabled: false }, title: { display: false } },
      scales: {
        x: {
          ...axisCommon,
          min: p.xlim[0], max: p.xlim[1],
          afterBuildTicks: (s: any) => { s.ticks = p.xticks.map((v: number) => ({ value: v })); },
          afterFit: (s: any) => { s.height = PAD_B; },
        },
        y: {
          ...axisCommon,
          min: p.ylim[0], max: p.ylim[1],
          afterBuildTicks: (s: any) => { s.ticks = p.yticks.map((v: number) => ({ value: v })); },
          afterFit: (s: any) => { s.width = PAD_L; },
        },
      },
    },
  };
}

function Panel({ p }: { p: any }) {
  const ref = useRef<HTMLCanvasElement>(null);
  useEffect(() => {
    let chart: any = null;
    try {
      chart = new Chart(ref.current as HTMLCanvasElement, buildConfig(p) as any);
    } catch (e) {
      console.error(e);
    }
    return () => { if (chart) chart.destroy(); };
  }, []);
  const [L, T, R, B] = p.box;
  const W = R - L + PAD_L + PAD_R;
  const H = B - T + PAD_T + PAD_B;
  return (
    <canvas ref={ref} width={W} height={H}
      style={{ position: "absolute", left: L - PAD_L, top: T - PAD_T, width: W, height: H }} />
  );
}

function Txt({ x, y, size, children, center = false, rotate = false, spacing = 0 }: any) {
  let transform = center ? "translate(-50%,-50%)" : "translate(0,-50%)";
  if (rotate) transform = "translate(-50%,-50%) rotate(-90deg)";
  return (
    <div style={{ position: "absolute", left: x, top: y, transform, fontSize: size, lineHeight: 1, whiteSpace: "nowrap", color: "#111", fontFamily: FONT, letterSpacing: spacing }}>
      {children}
    </div>
  );
}

const TITLES = [
  { tag: "(a)", tagX: 45, tagY: 23, text: "Year interval 1 (2005\u20132008)", x: 105, y: 24 },
  { tag: "(b)", tagX: 493, tagY: 23, text: "Year interval 2 (2009\u20132012)", x: 573, y: 24 },
  { tag: "(c)", tagX: 952, tagY: 24, text: "Year interval 3 (2013\u20132016)", x: 1005, y: 24 },
  { tag: "(d)", tagX: 63, tagY: 477, text: "Year interval 4 (2017\u20132020)", x: 107, y: 475 },
  { tag: "(e)", tagX: 493, tagY: 478, text: "Year interval 5 (2021\u20132024)", x: 542, y: 475 },
];
const AXIS_TITLES = [
  { pc1: [198, 410], pc2: [18, 205] },
  { pc1: [615, 417], pc2: [442, 203] },
  { pc1: [1075, 415], pc2: [903, 185] },
  { pc1: [168, 875], pc2: [18, 660] },
  { pc1: [627, 868], pc2: [442, 660] },
];
const LEGEND_ITEMS = ["Niche from GBIF data", "Niche from combined data", "Extent of environmental conditions", "10% Quantile of environmental conditions"];

export default function App() {
  return (
    <div style={{ position: "absolute", left: 0, top: 0, width: 1333, height: 884, background: "#fff", overflow: "hidden", fontFamily: FONT }}>
      {PANELS.map((p, i) => <Panel key={i} p={p} />)}
      {TITLES.map((t, i) => (
        <React.Fragment key={i}>
          <Txt x={t.tagX} y={t.tagY} size={26} spacing={1.5}>{t.tag}</Txt>
          <Txt x={t.x} y={t.y} size={18.5}>{t.text}</Txt>
        </React.Fragment>
      ))}
      <Txt x={443} y={357} size={26} spacing={1.5}>(c)</Txt>
      {AXIS_TITLES.map((a, i) => (
        <React.Fragment key={i}>
          <Txt x={a.pc1[0]} y={a.pc1[1]} size={16.5} center>PC1</Txt>
          <Txt x={a.pc2[0]} y={a.pc2[1]} size={16.5} rotate>PC2</Txt>
        </React.Fragment>
      ))}
      <div style={{ position: "absolute", left: 936, top: 498, width: 21, height: 21, background: "#82d5cc" }} />
      <Txt x={973} y={506} size={18.5}>{LEGEND_ITEMS[0]}</Txt>
      <div style={{ position: "absolute", left: 936, top: 539, width: 21, height: 21, background: "#b3b1ff" }} />
      <Txt x={970} y={550} size={18.5}>{LEGEND_ITEMS[1]}</Txt>
      <div style={{ position: "absolute", left: 936, top: 593, width: 26, height: 2, background: "#111" }} />
      <Txt x={975} y={594} size={18.5}>{LEGEND_ITEMS[2]}</Txt>
      <div style={{ position: "absolute", left: 936, top: 636, width: 26, height: 0, borderTop: "2px dotted #222" }} />
      <Txt x={974} y={637} size={18.5}>{LEGEND_ITEMS[3]}</Txt>
    </div>
  );
}
